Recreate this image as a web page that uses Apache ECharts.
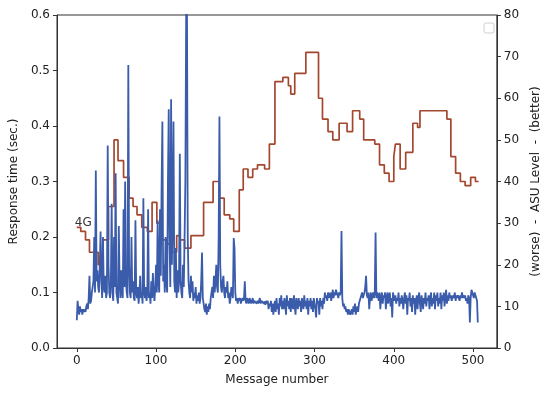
<!DOCTYPE html>
<html>
<head>
<meta charset="utf-8">
<script src="https://cdn.jsdelivr.net/npm/echarts@6/dist/echarts.min.js"></script>
<style>html,body{margin:0;padding:0;background:#fff}#c{width:550px;height:394px}</style>
</head>
<body>
<div id="c"></div>
<script>
// Response time (sec.) per message number 0..506
const responseTime = [
0.05,0.085,0.07,0.06,0.075,0.065,0.07,0.06,0.07,0.065,
0.07,0.065,0.075,0.08,0.07,0.09,0.13,0.08,0.085,0.1,
0.11,0.12,0.2,0.1,0.32,0.12,0.14,0.11,0.1,0.15,
0.21,0.12,0.09,0.2,0.11,0.1,0.13,0.09,0.1,0.365,
0.15,0.1,0.09,0.12,0.26,0.1,0.085,0.2,0.11,0.315,
0.1,0.09,0.08,0.22,0.12,0.09,0.14,0.1,0.09,0.25,
0.11,0.3,0.12,0.1,0.09,0.51,0.15,0.1,0.09,0.2,
0.1,0.12,0.09,0.085,0.23,0.1,0.09,0.11,0.08,0.1,
0.13,0.09,0.1,0.08,0.27,0.1,0.09,0.11,0.085,0.1,
0.25,0.09,0.1,0.08,0.12,0.09,0.135,0.1,0.085,0.11,
0.15,0.1,0.23,0.12,0.1,0.25,0.13,0.29,0.408,0.12,
0.15,0.1,0.2,0.12,0.1,0.3,0.43,0.2,0.11,0.448,
0.15,0.25,0.408,0.12,0.1,0.18,0.09,0.14,0.1,0.12,
0.35,0.12,0.1,0.09,0.15,0.11,0.2,0.3,0.6,0.62,
0.2,0.12,0.1,0.09,0.13,0.1,0.12,0.085,0.1,0.09,
0.11,0.08,0.095,0.085,0.1,0.08,0.09,0.12,0.172,0.09,
0.08,0.07,0.065,0.08,0.06,0.075,0.065,0.08,0.07,0.09,
0.1,0.11,0.09,0.13,0.1,0.12,0.15,0.11,0.1,0.2,
0.417,0.15,0.11,0.1,0.12,0.13,0.1,0.09,0.11,0.1,
0.12,0.09,0.1,0.08,0.09,0.11,0.1,0.09,0.198,0.18,
0.1,0.085,0.09,0.08,0.09,0.085,0.09,0.08,0.085,0.09,
0.085,0.09,0.12,0.085,0.08,0.09,0.085,0.08,0.09,0.085,
0.08,0.085,0.09,0.08,0.085,0.082,0.088,0.08,0.085,0.08,
0.085,0.09,0.08,0.085,0.082,0.086,0.08,0.084,0.078,0.085,
0.08,0.085,0.07,0.08,0.075,0.085,0.065,0.08,0.06,0.075,
0.085,0.065,0.09,0.07,0.08,0.06,0.09,0.075,0.095,0.07,
0.085,0.07,0.09,0.08,0.06,0.095,0.075,0.085,0.07,0.09,
0.065,0.09,0.08,0.07,0.095,0.075,0.06,0.09,0.08,0.07,
0.09,0.075,0.085,0.065,0.09,0.08,0.07,0.095,0.075,0.085,
0.07,0.09,0.06,0.085,0.075,0.09,0.07,0.085,0.065,0.09,
0.08,0.07,0.055,0.09,0.08,0.085,0.06,0.09,0.075,0.085,
0.07,0.09,0.08,0.1,0.09,0.095,0.085,0.1,0.09,0.095,
0.1,0.085,0.095,0.105,0.09,0.1,0.095,0.105,0.1,0.095,
0.09,0.1,0.095,0.1,0.211,0.09,0.075,0.08,0.07,0.075,
0.065,0.07,0.06,0.07,0.065,0.06,0.065,0.07,0.06,0.075,
0.065,0.08,0.06,0.07,0.075,0.065,0.08,0.085,0.09,0.095,
0.1,0.09,0.095,0.1,0.11,0.13,0.095,0.09,0.1,0.07,
0.09,0.1,0.085,0.095,0.1,0.09,0.1,0.208,0.09,0.1,
0.095,0.085,0.1,0.07,0.09,0.1,0.08,0.095,0.09,0.1,
0.07,0.09,0.1,0.08,0.095,0.1,0.075,0.09,0.055,0.1,
0.09,0.085,0.095,0.08,0.09,0.085,0.1,0.075,0.09,0.08,
0.095,0.085,0.07,0.09,0.1,0.08,0.095,0.06,0.09,0.085,
0.1,0.075,0.09,0.065,0.095,0.08,0.09,0.06,0.085,0.095,
0.07,0.09,0.1,0.08,0.065,0.095,0.085,0.07,0.09,0.08,
0.1,0.075,0.09,0.085,0.095,0.07,0.09,0.1,0.075,0.09,
0.08,0.1,0.07,0.095,0.085,0.1,0.075,0.09,0.08,0.1,
0.07,0.095,0.085,0.1,0.075,0.09,0.105,0.08,0.095,0.085,
0.1,0.09,0.095,0.085,0.09,0.095,0.09,0.1,0.085,0.095,
0.09,0.095,0.09,0.085,0.095,0.09,0.1,0.09,0.095,0.09,
0.095,0.085,0.09,0.08,0.095,0.09,0.046,0.09,0.105,0.1,
0.095,0.09,0.1,0.095,0.09,0.085,0.046
];

// ASU level: message number where each level starts, and the level
const asuStart = [0,5,11,16,27,33,40,47,52,59,66,71,76,82,89,95,101,107,114,118,126,130,136,144,160,172,180,186,193,198,205,210,216,222,228,237,243,250,260,267,270,275,289,305,310,317,323,331,341,348,357,362,376,382,388,394,400,402,408,415,424,430,433,467,472,478,484,490,497,503,507];
const asuLevel = [29,28,26,23,20,26,34,50,45,41,36,34,32,29,28,35,30,26,25,23,27,26,24,27,35,40,36,32,31,28,38,43,41,43,44,43,49,64,65,63,61,66,71,60,55,52,50,54,52,57,55,50,49,44,42,40,46,49,43,47,54,53,57,55,46,42,40,39,41,40,40];

const xTicks = [0,100,200,300,400,500];
const leftTicks = [0,0.1,0.2,0.3,0.4,0.5,0.6];
const rightTicks = [0,10,20,30,40,50,60,70,80];
const networkLabel = '4G';

const txt = '#222';
const font = 'DejaVu Sans';

const respData = responseTime.map((v, i) => [i, v]);
const asuData = asuStart.map((m, i) => [m, asuLevel[i]]);

const chart = echarts.init(document.getElementById('c'), null, {renderer: 'canvas'});
chart.setOption({
  animation: false,
  backgroundColor: '#fff',
  textStyle: {fontFamily: font},
  grid: {left: 54, right: 52, top: 15, bottom: 46, show: true, borderColor: '#333', borderWidth: 1, backgroundColor: 'transparent'},
  xAxis: {
    type: 'value', min: -25, max: 530,
    name: 'Message number', nameLocation: 'middle', nameGap: 26,
    nameTextStyle: {fontSize: 12, color: txt, fontFamily: font},
    axisLine: {show: true, onZero: false, lineStyle: {color: '#333', width: 1}},
    axisTick: {show: true, length: 4, lineStyle: {color: '#333'}, customValues: xTicks},
    axisLabel: {fontSize: 12, color: txt, margin: 7, fontFamily: font, customValues: xTicks},
    splitLine: {show: false}
  },
  yAxis: [{
    type: 'value', min: 0, max: 0.6, position: 'left',
    name: 'Response time (sec.)', nameLocation: 'middle', nameGap: 34, nameRotate: 90,
    nameTextStyle: {fontSize: 12, color: txt, fontFamily: font},
    axisLine: {show: true, onZero: false, lineStyle: {color: '#333', width: 1}},
    axisTick: {show: true, length: 4, lineStyle: {color: '#333'}, customValues: leftTicks},
    axisLabel: {fontSize: 12, color: txt, margin: 7, fontFamily: font, customValues: leftTicks,
      formatter: v => v.toFixed(1)},
    splitLine: {show: false}
  }, {
    type: 'value', min: 0, max: 80, position: 'right',
    name: '(worse)  -  ASU Level  -  (better)', nameLocation: 'middle', nameGap: 32, nameRotate: 90,
    nameTextStyle: {fontSize: 12, color: txt, fontFamily: font},
    axisLine: {show: true, onZero: false, lineStyle: {color: '#333', width: 1}},
    axisTick: {show: true, length: 4, lineStyle: {color: '#333'}, customValues: rightTicks},
    axisLabel: {fontSize: 12, color: txt, margin: 7, fontFamily: font, customValues: rightTicks},
    splitLine: {show: false}
  }],
  series: [{
    type: 'line', yAxisIndex: 1, data: asuData, step: 'end', showSymbol: false, z: 2,
    lineStyle: {color: '#a3472f', width: 1.7},
    markPoint: {
      symbol: 'circle', symbolSize: 0,
      data: [{coord: [0, asuLevel[0]], value: networkLabel}],
      label: {show: true, position: 'right', distance: 0, offset: [-2, -4], formatter: networkLabel,
        fontSize: 12, color: '#333', fontFamily: font}
    }
  }, {
    type: 'line', yAxisIndex: 0, data: respData, showSymbol: false, z: 3,
    lineStyle: {color: '#3a5caa', width: 1.8}
  }],
  graphic: [{
    type: 'rect', shape: {x: 484, y: 23, width: 10, height: 10, r: 2},
    style: {fill: '#fff', stroke: '#d0d0d0', lineWidth: 1}
  }]
});
</script>
</body>
</html>
